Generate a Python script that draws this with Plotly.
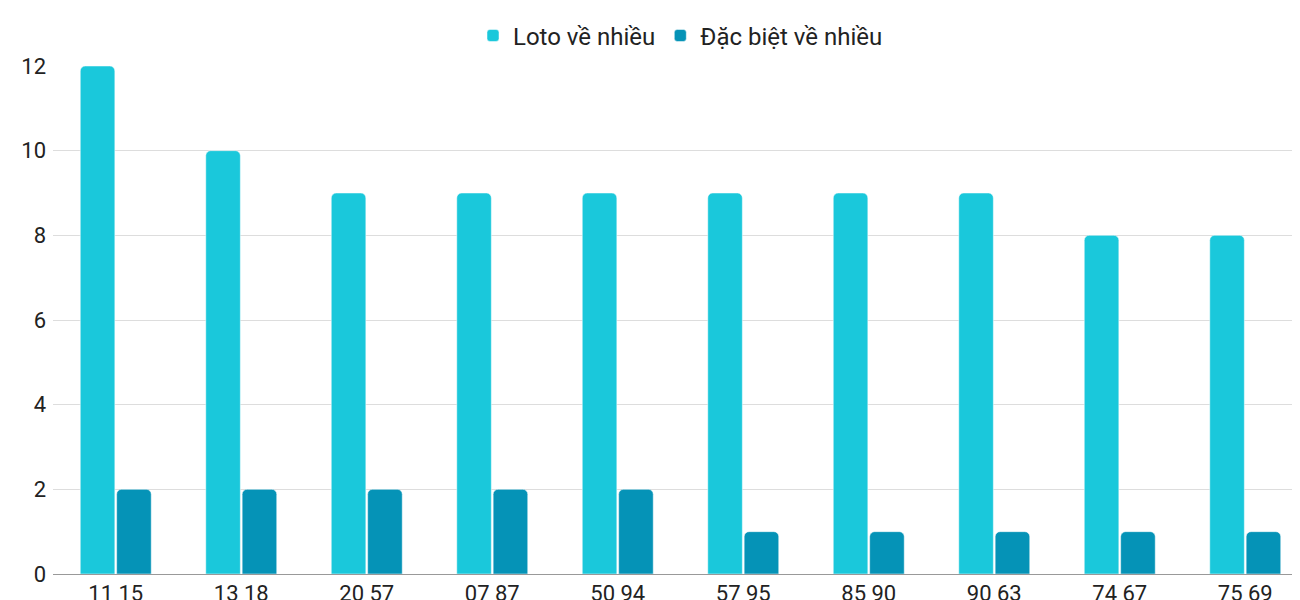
import plotly.graph_objects as go

cap_so = ["11 15", "13 18", "20 57", "07 87", "50 94", "57 95", "85 90", "90 63", "74 67", "75 69"]
loto = [12, 10, 9, 9, 9, 9, 9, 9, 8, 8]
dac_biet = [2, 2, 2, 2, 2, 1, 1, 1, 1, 1]

fig = go.Figure()

fig.add_trace(go.Bar(
    x=cap_so, y=loto, name="Loto về nhiều",
    marker=dict(color="#1ac8db", cornerradius=5)
))

fig.add_trace(go.Bar(
    x=cap_so, y=dac_biet, name="Đặc biệt về nhiều",
    marker=dict(color="#0593b7", cornerradius=5)
))

fig.update_layout(
    width=1300, height=600,
    template="plotly_white",
    font=dict(family="Roboto", size=22, color="#222"),
    barmode="group",
    bargap=0.42,
    bargroupgap=0.05,
    showlegend=True,
    legend=dict(orientation="h", x=0.5, xanchor="center", y=1.015, yanchor="bottom",
                font=dict(size=24)),
    margin=dict(l=45, r=0, t=58, b=34, autoexpand=False),
    plot_bgcolor="white"
)

fig.update_yaxes(range=[0, 12], dtick=2, gridcolor="#dddddd", zeroline=False,
                 ticklabelstandoff=6, tickfont=dict(size=22))
fig.update_xaxes(showline=True, linecolor="#999", tickfont=dict(size=22))

fig.write_html("out.html")
